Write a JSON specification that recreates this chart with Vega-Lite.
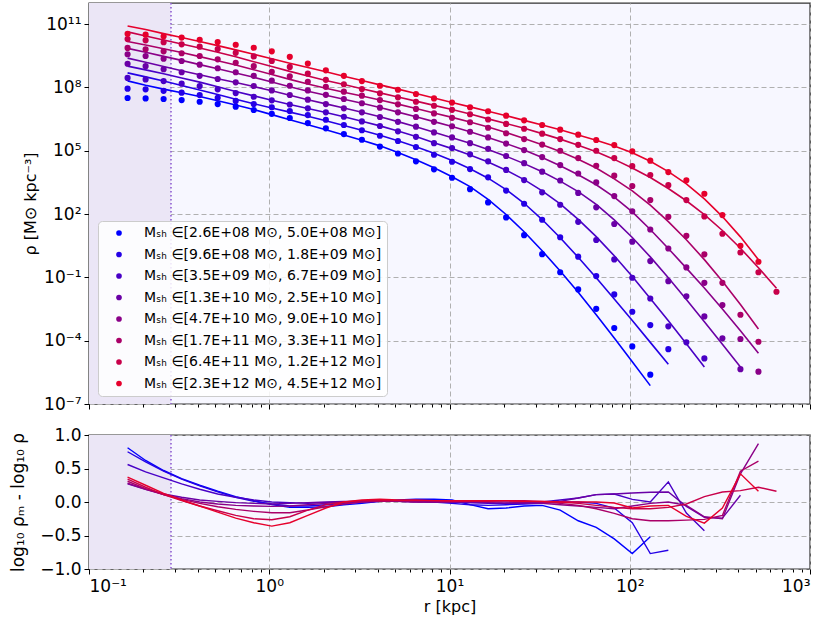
{
"$schema":"https://vega.github.io/schema/vega-lite/v6.json",
"background":"white",
"padding":{"left":8,"top":1,"right":21,"bottom":0},
"config":{
 "font":"DejaVu Sans",
 "view":{"fill":"#f7f7ff","stroke":"#333333","strokeWidth":1.4},
 "axis":{"labelFont":"DejaVu Sans","titleFont":"DejaVu Sans","labelFontSize":17,"titleFontSize":16,"titleFontWeight":"normal","labelColor":"black","titleColor":"black","tickColor":"black","tickSize":5,"tickWidth":1,"domain":false,"gridColor":"#b0b0b0","gridDash":[5,3],"gridWidth":1,"labelPadding":3}
},
"datasets":{
"zone":[{"a":0.1,"b":0.285}],
"bins":[
{"g":1,"label":"Mₛₕ ∈[2.6E+08 M⊙, 5.0E+08 M⊙]"},
{"g":2,"label":"Mₛₕ ∈[9.6E+08 M⊙, 1.8E+09 M⊙]"},
{"g":3,"label":"Mₛₕ ∈[3.5E+09 M⊙, 6.7E+09 M⊙]"},
{"g":4,"label":"Mₛₕ ∈[1.3E+10 M⊙, 2.5E+10 M⊙]"},
{"g":5,"label":"Mₛₕ ∈[4.7E+10 M⊙, 9.0E+10 M⊙]"},
{"g":6,"label":"Mₛₕ ∈[1.7E+11 M⊙, 3.3E+11 M⊙]"},
{"g":7,"label":"Mₛₕ ∈[6.4E+11 M⊙, 1.2E+12 M⊙]"},
{"g":8,"label":"Mₛₕ ∈[2.3E+12 M⊙, 4.5E+12 M⊙]"}
],
"prof":[
{"g":1,"r":0.1637,"rho":3.16e7,"rhom":2.04e8,"res":0.81},
{"g":1,"r":0.2061,"rho":3.02e7,"rhom":1.26e8,"res":0.62},
{"g":1,"r":0.2594,"rho":2.82e7,"rhom":8.32e7,"res":0.47},
{"g":1,"r":0.3266,"rho":2.51e7,"rhom":5.62e7,"res":0.35},
{"g":1,"r":0.4112,"rho":2.09e7,"rhom":3.72e7,"res":0.25},
{"g":1,"r":0.5176,"rho":1.62e7,"rhom":2.34e7,"res":0.16},
{"g":1,"r":0.6516,"rho":1.23e7,"rhom":1.48e7,"res":0.08},
{"g":1,"r":0.8204,"rho":8.51e6,"rhom":8.91e6,"res":0.02},
{"g":1,"r":1.033,"rho":5.62e6,"rhom":5.13e6,"res":-0.04},
{"g":1,"r":1.3,"rho":3.55e6,"rhom":2.95e6,"res":-0.08},
{"g":1,"r":1.637,"rho":2.04e6,"rhom":1.70e6,"res":-0.08},
{"g":1,"r":2.061,"rho":1.15e6,"rhom":9.77e5,"res":-0.07},
{"g":1,"r":2.594,"rho":6.17e5,"rhom":5.62e5,"res":-0.04},
{"g":1,"r":3.266,"rho":3.31e5,"rhom":3.16e5,"res":-0.02},
{"g":1,"r":4.112,"rho":1.58e5,"rhom":1.70e5,"res":0.01},
{"g":1,"r":5.176,"rho":7.41e4,"rhom":8.32e4,"res":0.03},
{"g":1,"r":6.516,"rho":3.16e4,"rhom":3.72e4,"res":0.04},
{"g":1,"r":8.204,"rho":1.32e4,"rhom":1.55e4,"res":0.04},
{"g":1,"r":10.33,"rho":5.25e3,"rhom":5.89e3,"res":0.03},
{"g":1,"r":13.0,"rho":1.51e3,"rhom":2.00e3,"res":-0.04},
{"g":1,"r":16.37,"rho":355,"rhom":501,"res":-0.10},
{"g":1,"r":20.61,"rho":69.2,"rhom":95.5,"res":-0.09},
{"g":1,"r":25.94,"rho":10.0,"rhom":14.5,"res":-0.06},
{"g":1,"r":32.66,"rho":1.26,"rhom":1.82,"res":-0.05},
{"g":1,"r":41.12,"rho":0.174,"rhom":0.2,"res":-0.12},
{"g":1,"r":51.76,"rho":0.0269,"rhom":0.0195,"res":-0.28},
{"g":1,"r":65.16,"rho":0.00324,"rhom":0.0017,"res":-0.38},
{"g":1,"r":82.04,"rho":3.98e-4,"rhom":1.35e-4,"res":-0.55},
{"g":1,"r":103.3,"rho":5.37e-5,"rhom":1.0e-5,"res":-0.77},
{"g":1,"r":130.0,"rho":2.45e-6,"rhom":7.41e-7,"res":-0.52},
{"g":2,"r":0.1637,"rho":8.71e7,"rhom":4.90e8,"res":0.75},
{"g":2,"r":0.2061,"rho":8.13e7,"rhom":3.16e8,"res":0.60},
{"g":2,"r":0.2594,"rho":6.92e7,"rhom":2.00e8,"res":0.46},
{"g":2,"r":0.3266,"rho":5.62e7,"rhom":1.23e8,"res":0.34},
{"g":2,"r":0.4112,"rho":4.37e7,"rhom":7.59e7,"res":0.24},
{"g":2,"r":0.5176,"rho":3.24e7,"rhom":4.57e7,"res":0.15},
{"g":2,"r":0.6516,"rho":2.29e7,"rhom":2.75e7,"res":0.07},
{"g":2,"r":0.8204,"rho":1.62e7,"rhom":1.70e7,"res":0.01},
{"g":2,"r":1.033,"rho":1.15e7,"rhom":1.07e7,"res":-0.03},
{"g":2,"r":1.3,"rho":7.59e6,"rhom":6.76e6,"res":-0.06},
{"g":2,"r":1.637,"rho":4.90e6,"rhom":4.27e6,"res":-0.06},
{"g":2,"r":2.061,"rho":2.95e6,"rhom":2.63e6,"res":-0.04},
{"g":2,"r":2.594,"rho":1.66e6,"rhom":1.58e6,"res":-0.02},
{"g":2,"r":3.266,"rho":9.33e5,"rhom":9.33e5,"res":0.0},
{"g":2,"r":4.112,"rho":5.13e5,"rhom":5.37e5,"res":0.01},
{"g":2,"r":5.176,"rho":2.88e5,"rhom":2.95e5,"res":0.02},
{"g":2,"r":6.516,"rho":1.51e5,"rhom":1.55e5,"res":0.02},
{"g":2,"r":8.204,"rho":6.46e4,"rhom":7.59e4,"res":0.0},
{"g":2,"r":10.33,"rho":3.02e4,"rhom":3.47e4,"res":-0.02},
{"g":2,"r":13.0,"rho":1.35e4,"rhom":1.41e4,"res":-0.04},
{"g":2,"r":16.37,"rho":5.50e3,"rhom":5.01e3,"res":-0.05},
{"g":2,"r":20.61,"rho":1.29e3,"rhom":1.45e3,"res":-0.04},
{"g":2,"r":25.94,"rho":309,"rhom":324,"res":-0.03},
{"g":2,"r":32.66,"rho":53.7,"rhom":55.0,"res":-0.02},
{"g":2,"r":41.12,"rho":7.94,"rhom":7.59,"res":0.0},
{"g":2,"r":51.76,"rho":0.955,"rhom":0.891,"res":0.0},
{"g":2,"r":65.16,"rho":0.115,"rhom":0.0955,"res":-0.02},
{"g":2,"r":82.04,"rho":0.0155,"rhom":9.55e-3,"res":-0.09},
{"g":2,"r":103.3,"rho":2.34e-3,"rhom":9.12e-4,"res":-0.31},
{"g":2,"r":130.0,"rho":5.50e-4,"rhom":8.32e-5,"res":-0.77},
{"g":2,"r":163.7,"rho":3.98e-5,"rhom":7.59e-6,"res":-0.72},
{"g":3,"r":0.1637,"rho":2.82e8,"rhom":1.02e9,"res":0.56},
{"g":3,"r":0.2061,"rho":2.40e8,"rhom":6.76e8,"res":0.45},
{"g":3,"r":0.2594,"rho":2.00e8,"rhom":4.47e8,"res":0.36},
{"g":3,"r":0.3266,"rho":1.51e8,"rhom":2.82e8,"res":0.27},
{"g":3,"r":0.4112,"rho":1.17e8,"rhom":1.78e8,"res":0.19},
{"g":3,"r":0.5176,"rho":8.13e7,"rhom":1.07e8,"res":0.12},
{"g":3,"r":0.6516,"rho":5.37e7,"rhom":6.46e7,"res":0.07},
{"g":3,"r":0.8204,"rho":3.63e7,"rhom":3.98e7,"res":0.03},
{"g":3,"r":1.033,"rho":2.45e7,"rhom":2.45e7,"res":0.0},
{"g":3,"r":1.3,"rho":1.55e7,"rhom":1.55e7,"res":-0.01},
{"g":3,"r":1.637,"rho":1.02e7,"rhom":1.00e7,"res":-0.02},
{"g":3,"r":2.061,"rho":6.61e6,"rhom":6.46e6,"res":-0.01},
{"g":3,"r":2.594,"rho":4.07e6,"rhom":4.07e6,"res":0.0},
{"g":3,"r":3.266,"rho":2.45e6,"rhom":2.51e6,"res":0.01},
{"g":3,"r":4.112,"rho":1.48e6,"rhom":1.51e6,"res":0.01},
{"g":3,"r":5.176,"rho":8.32e5,"rhom":8.71e5,"res":0.01},
{"g":3,"r":6.516,"rho":4.57e5,"rhom":4.68e5,"res":0.01},
{"g":3,"r":8.204,"rho":2.29e5,"rhom":2.40e5,"res":0.0},
{"g":3,"r":10.33,"rho":1.35e5,"rhom":1.26e5,"res":0.0},
{"g":3,"r":13.0,"rho":6.76e4,"rhom":6.31e4,"res":-0.01},
{"g":3,"r":16.37,"rho":3.16e4,"rhom":2.95e4,"res":-0.02},
{"g":3,"r":20.61,"rho":1.23e4,"rhom":1.20e4,"res":-0.02},
{"g":3,"r":25.94,"rho":4.07e3,"rhom":4.27e3,"res":-0.01},
{"g":3,"r":32.66,"rho":1.07e3,"rhom":1.26e3,"res":0.0},
{"g":3,"r":41.12,"rho":275,"rhom":302,"res":0.03},
{"g":3,"r":51.76,"rho":42.7,"rhom":56.2,"res":0.06},
{"g":3,"r":65.16,"rho":5.89,"rhom":8.51,"res":0.11},
{"g":3,"r":82.04,"rho":0.708,"rhom":1.05,"res":0.12},
{"g":3,"r":103.3,"rho":0.0955,"rhom":0.110,"res":0.04},
{"g":3,"r":130.0,"rho":0.0100,"rhom":0.0100,"res":0.0},
{"g":3,"r":163.7,"rho":4.79e-4,"rhom":8.71e-4,"res":0.30},
{"g":3,"r":206.1,"rho":8.32e-5,"rhom":7.08e-5,"res":-0.165},
{"g":3,"r":259.4,"rho":1.45e-5,"rhom":5.62e-6,"res":-0.43},
{"g":4,"r":0.1637,"rho":1.32e9,"rhom":2.45e9,"res":0.27},
{"g":4,"r":0.2061,"rho":1.02e9,"rhom":1.55e9,"res":0.19},
{"g":4,"r":0.2594,"rho":7.24e8,"rhom":9.77e8,"res":0.12},
{"g":4,"r":0.3266,"rho":5.25e8,"rhom":6.17e8,"res":0.07},
{"g":4,"r":0.4112,"rho":3.55e8,"rhom":3.98e8,"res":0.03},
{"g":4,"r":0.5176,"rho":2.51e8,"rhom":2.57e8,"res":0.01},
{"g":4,"r":0.6516,"rho":1.74e8,"rhom":1.70e8,"res":-0.01},
{"g":4,"r":0.8204,"rho":1.17e8,"rhom":1.10e8,"res":-0.02},
{"g":4,"r":1.033,"rho":7.24e7,"rhom":6.92e7,"res":-0.03},
{"g":4,"r":1.3,"rho":4.37e7,"rhom":4.27e7,"res":-0.02},
{"g":4,"r":1.637,"rho":2.63e7,"rhom":2.63e7,"res":-0.01},
{"g":4,"r":2.061,"rho":1.62e7,"rhom":1.66e7,"res":0.0},
{"g":4,"r":2.594,"rho":1.02e7,"rhom":1.05e7,"res":0.01},
{"g":4,"r":3.266,"rho":6.61e6,"rhom":6.61e6,"res":0.01},
{"g":4,"r":4.112,"rho":3.98e6,"rhom":4.07e6,"res":0.01},
{"g":4,"r":5.176,"rho":2.34e6,"rhom":2.40e6,"res":0.01},
{"g":4,"r":6.516,"rho":1.38e6,"rhom":1.38e6,"res":0.0},
{"g":4,"r":8.204,"rho":7.41e5,"rhom":7.59e5,"res":0.0},
{"g":4,"r":10.33,"rho":4.27e5,"rhom":4.17e5,"res":0.0},
{"g":4,"r":13.0,"rho":2.29e5,"rhom":2.24e5,"res":-0.01},
{"g":4,"r":16.37,"rho":1.23e5,"rhom":1.15e5,"res":-0.01},
{"g":4,"r":20.61,"rho":5.62e4,"rhom":5.50e4,"res":-0.02},
{"g":4,"r":25.94,"rho":2.57e4,"rhom":2.45e4,"res":-0.02},
{"g":4,"r":32.66,"rho":1.02e4,"rhom":1.00e4,"res":-0.01},
{"g":4,"r":41.12,"rho":3.89e3,"rhom":3.63e3,"res":0.01},
{"g":4,"r":51.76,"rho":1.00e3,"rhom":1.15e3,"res":0.06},
{"g":4,"r":65.16,"rho":209,"rhom":288,"res":0.11},
{"g":4,"r":82.04,"rho":33.9,"rhom":52.5,"res":0.12},
{"g":4,"r":103.3,"rho":4.90,"rhom":7.76,"res":0.135},
{"g":4,"r":130.0,"rho":0.589,"rhom":0.933,"res":0.145},
{"g":4,"r":163.7,"rho":0.0661,"rhom":0.0955,"res":0.15},
{"g":4,"r":206.1,"rho":0.0126,"rhom":8.91e-3,"res":-0.065},
{"g":4,"r":259.4,"rho":1.41e-3,"rhom":7.94e-4,"res":-0.23},
{"g":4,"r":326.6,"rho":1.29e-4,"rhom":6.76e-5,"res":-0.24},
{"g":4,"r":411.2,"rho":4.47e-6,"rhom":5.62e-6,"res":0.10},
{"g":5,"r":0.1637,"rho":3.72e9,"rhom":7.08e9,"res":0.28},
{"g":5,"r":0.2061,"rho":3.09e9,"rhom":4.68e9,"res":0.19},
{"g":5,"r":0.2594,"rho":2.29e9,"rhom":2.95e9,"res":0.11},
{"g":5,"r":0.3266,"rho":1.78e9,"rhom":1.91e9,"res":0.05},
{"g":5,"r":0.4112,"rho":1.20e9,"rhom":1.20e9,"res":0.0},
{"g":5,"r":0.5176,"rho":8.13e8,"rhom":7.59e8,"res":-0.03},
{"g":5,"r":0.6516,"rho":5.25e8,"rhom":4.79e8,"res":-0.05},
{"g":5,"r":0.8204,"rho":3.55e8,"rhom":3.02e8,"res":-0.06},
{"g":5,"r":1.033,"rho":2.09e8,"rhom":1.82e8,"res":-0.065},
{"g":5,"r":1.3,"rho":1.20e8,"rhom":1.07e8,"res":-0.06},
{"g":5,"r":1.637,"rho":7.24e7,"rhom":6.61e7,"res":-0.04},
{"g":5,"r":2.061,"rho":4.47e7,"rhom":4.27e7,"res":-0.02},
{"g":5,"r":2.594,"rho":2.82e7,"rhom":2.75e7,"res":0.0},
{"g":5,"r":3.266,"rho":1.78e7,"rhom":1.78e7,"res":0.01},
{"g":5,"r":4.112,"rho":1.10e7,"rhom":1.12e7,"res":0.01},
{"g":5,"r":5.176,"rho":6.61e6,"rhom":6.76e6,"res":0.01},
{"g":5,"r":6.516,"rho":3.98e6,"rhom":4.07e6,"res":0.0},
{"g":5,"r":8.204,"rho":2.34e6,"rhom":2.40e6,"res":0.0},
{"g":5,"r":10.33,"rho":1.45e6,"rhom":1.41e6,"res":0.0},
{"g":5,"r":13.0,"rho":7.94e5,"rhom":7.94e5,"res":0.01},
{"g":5,"r":16.37,"rho":4.27e5,"rhom":4.27e5,"res":0.0},
{"g":5,"r":20.61,"rho":2.19e5,"rhom":2.19e5,"res":0.0},
{"g":5,"r":25.94,"rho":1.07e5,"rhom":1.07e5,"res":-0.01},
{"g":5,"r":32.66,"rho":5.01e4,"rhom":4.79e4,"res":-0.02},
{"g":5,"r":41.12,"rho":2.09e4,"rhom":1.95e4,"res":-0.04},
{"g":5,"r":51.76,"rho":8.32e3,"rhom":7.24e3,"res":-0.06},
{"g":5,"r":65.16,"rho":3.16e3,"rhom":2.45e3,"res":-0.08},
{"g":5,"r":82.04,"rho":708,"rhom":631,"res":-0.10},
{"g":5,"r":103.3,"rho":135,"rhom":126,"res":-0.06},
{"g":5,"r":130.0,"rho":18.6,"rhom":18.6,"res":-0.02},
{"g":5,"r":163.7,"rho":2.34,"rhom":2.34,"res":0.0},
{"g":5,"r":206.1,"rho":0.295,"rhom":0.275,"res":-0.05},
{"g":5,"r":259.4,"rho":0.0550,"rhom":0.0316,"res":-0.22},
{"g":5,"r":326.6,"rho":4.90e-3,"rhom":3.16e-3,"res":-0.25},
{"g":5,"r":411.2,"rho":1.20e-4,"rhom":2.95e-4,"res":0.42},
{"g":5,"r":517.6,"rho":3.39e-6,"rhom":2.51e-5,"res":0.87},
{"g":6,"r":0.1637,"rho":7.41e9,"rhom":1.51e10,"res":0.31},
{"g":6,"r":0.2061,"rho":6.46e9,"rhom":1.02e10,"res":0.20},
{"g":6,"r":0.2594,"rho":5.13e9,"rhom":6.76e9,"res":0.11},
{"g":6,"r":0.3266,"rho":4.17e9,"rhom":4.47e9,"res":0.04},
{"g":6,"r":0.4112,"rho":3.09e9,"rhom":2.88e9,"res":-0.02},
{"g":6,"r":0.5176,"rho":2.14e9,"rhom":1.82e9,"res":-0.07},
{"g":6,"r":0.6516,"rho":1.48e9,"rhom":1.15e9,"res":-0.11},
{"g":6,"r":0.8204,"rho":1.02e9,"rhom":6.92e8,"res":-0.14},
{"g":6,"r":1.033,"rho":5.50e8,"rhom":4.07e8,"res":-0.16},
{"g":6,"r":1.3,"rho":3.39e8,"rhom":2.40e8,"res":-0.16},
{"g":6,"r":1.637,"rho":1.86e8,"rhom":1.45e8,"res":-0.12},
{"g":6,"r":2.061,"rho":1.07e8,"rhom":9.12e7,"res":-0.07},
{"g":6,"r":2.594,"rho":6.31e7,"rhom":5.89e7,"res":-0.03},
{"g":6,"r":3.266,"rho":4.07e7,"rhom":3.89e7,"res":0.0},
{"g":6,"r":4.112,"rho":2.51e7,"rhom":2.51e7,"res":0.01},
{"g":6,"r":5.176,"rho":1.58e7,"rhom":1.62e7,"res":0.02},
{"g":6,"r":6.516,"rho":9.55e6,"rhom":1.00e7,"res":0.02},
{"g":6,"r":8.204,"rho":5.89e6,"rhom":6.17e6,"res":0.02},
{"g":6,"r":10.33,"rho":3.63e6,"rhom":3.80e6,"res":0.02},
{"g":6,"r":13.0,"rho":2.24e6,"rhom":2.29e6,"res":0.02},
{"g":6,"r":16.37,"rho":1.23e6,"rhom":1.32e6,"res":0.02},
{"g":6,"r":20.61,"rho":6.76e5,"rhom":7.24e5,"res":0.02},
{"g":6,"r":25.94,"rho":3.55e5,"rhom":3.80e5,"res":0.01},
{"g":6,"r":32.66,"rho":1.95e5,"rhom":1.91e5,"res":0.0},
{"g":6,"r":41.12,"rho":1.00e5,"rhom":9.12e4,"res":-0.02},
{"g":6,"r":51.76,"rho":4.47e4,"rhom":3.98e4,"res":-0.05},
{"g":6,"r":65.16,"rho":1.95e4,"rhom":1.51e4,"res":-0.10},
{"g":6,"r":82.04,"rho":6.61e3,"rhom":4.68e3,"res":-0.17},
{"g":6,"r":103.3,"rho":2.14e3,"rhom":1.26e3,"res":-0.25},
{"g":6,"r":130.0,"rho":457,"rhom":263,"res":-0.28},
{"g":6,"r":163.7,"rho":74.1,"rhom":43.7,"res":-0.28},
{"g":6,"r":206.1,"rho":9.33,"rhom":6.03,"res":-0.27},
{"g":6,"r":259.4,"rho":1.23,"rhom":0.692,"res":-0.26},
{"g":6,"r":326.6,"rho":0.0550,"rhom":0.0661,"res":-0.20},
{"g":6,"r":411.2,"rho":1.70e-3,"rhom":5.13e-3,"res":0.46},
{"g":6,"r":517.6,"rho":8.91e-5,"rhom":3.55e-4,"res":0.61},
{"g":7,"r":0.1637,"rho":1.95e10,"rhom":4.27e10,"res":0.34},
{"g":7,"r":0.2061,"rho":1.70e10,"rhom":2.75e10,"res":0.22},
{"g":7,"r":0.2594,"rho":1.38e10,"rhom":1.78e10,"res":0.11},
{"g":7,"r":0.3266,"rho":1.10e10,"rhom":1.15e10,"res":0.02},
{"g":7,"r":0.4112,"rho":8.51e9,"rhom":7.41e9,"res":-0.06},
{"g":7,"r":0.5176,"rho":6.61e9,"rhom":4.68e9,"res":-0.13},
{"g":7,"r":0.6516,"rho":4.37e9,"rhom":2.82e9,"res":-0.20},
{"g":7,"r":0.8204,"rho":2.95e9,"rhom":1.66e9,"res":-0.25},
{"g":7,"r":1.033,"rho":1.78e9,"rhom":9.77e8,"res":-0.265},
{"g":7,"r":1.3,"rho":9.33e8,"rhom":5.75e8,"res":-0.22},
{"g":7,"r":1.637,"rho":4.47e8,"rhom":3.47e8,"res":-0.12},
{"g":7,"r":2.061,"rho":2.29e8,"rhom":2.14e8,"res":-0.04},
{"g":7,"r":2.594,"rho":1.41e8,"rhom":1.38e8,"res":0.0},
{"g":7,"r":3.266,"rho":8.32e7,"rhom":8.71e7,"res":0.02},
{"g":7,"r":4.112,"rho":5.25e7,"rhom":5.50e7,"res":0.02},
{"g":7,"r":5.176,"rho":3.39e7,"rhom":3.55e7,"res":0.02},
{"g":7,"r":6.516,"rho":2.09e7,"rhom":2.24e7,"res":0.02},
{"g":7,"r":8.204,"rho":1.35e7,"rhom":1.41e7,"res":0.02},
{"g":7,"r":10.33,"rho":8.71e6,"rhom":8.91e6,"res":0.01},
{"g":7,"r":13.0,"rho":5.37e6,"rhom":5.50e6,"res":0.01},
{"g":7,"r":16.37,"rho":3.02e6,"rhom":3.24e6,"res":0.01},
{"g":7,"r":20.61,"rho":1.86e6,"rhom":1.95e6,"res":0.02},
{"g":7,"r":25.94,"rho":1.10e6,"rhom":1.15e6,"res":0.02},
{"g":7,"r":32.66,"rho":6.46e5,"rhom":6.46e5,"res":0.01},
{"g":7,"r":41.12,"rho":3.55e5,"rhom":3.55e5,"res":0.0},
{"g":7,"r":51.76,"rho":1.91e5,"rhom":1.82e5,"res":-0.02},
{"g":7,"r":65.16,"rho":1.00e5,"rhom":8.91e4,"res":-0.05},
{"g":7,"r":82.04,"rho":4.47e4,"rhom":3.89e4,"res":-0.08},
{"g":7,"r":103.3,"rho":1.86e4,"rhom":1.51e4,"res":-0.10},
{"g":7,"r":130.0,"rho":7.08e3,"rhom":5.37e3,"res":-0.10},
{"g":7,"r":163.7,"rho":2.34e3,"rhom":1.62e3,"res":-0.08},
{"g":7,"r":206.1,"rho":457,"rhom":427,"res":-0.03},
{"g":7,"r":259.4,"rho":77.6,"rhom":93.3,"res":0.08},
{"g":7,"r":326.6,"rho":11.7,"rhom":16.6,"res":0.15},
{"g":7,"r":411.2,"rho":1.51,"rhom":2.40,"res":0.17},
{"g":7,"r":517.6,"rho":0.174,"rhom":0.288,"res":0.22},
{"g":7,"r":651.6,"rho":0.0209,"rhom":0.0302,"res":0.16},
{"g":8,"r":0.1637,"rho":3.47e10,"rhom":8.13e10,"res":0.37},
{"g":8,"r":0.2061,"rho":3.16e10,"rhom":5.50e10,"res":0.25},
{"g":8,"r":0.2594,"rho":2.63e10,"rhom":3.55e10,"res":0.13},
{"g":8,"r":0.3266,"rho":2.29e10,"rhom":2.34e10,"res":0.03},
{"g":8,"r":0.4112,"rho":1.82e10,"rhom":1.51e10,"res":-0.06},
{"g":8,"r":0.5176,"rho":1.41e10,"rhom":9.55e9,"res":-0.15},
{"g":8,"r":0.6516,"rho":1.05e10,"rhom":6.03e9,"res":-0.24},
{"g":8,"r":0.8204,"rho":7.59e9,"rhom":3.72e9,"res":-0.31},
{"g":8,"r":1.033,"rho":5.13e9,"rhom":2.29e9,"res":-0.36},
{"g":8,"r":1.3,"rho":2.82e9,"rhom":1.41e9,"res":-0.31},
{"g":8,"r":1.637,"rho":1.35e9,"rhom":8.71e8,"res":-0.20},
{"g":8,"r":2.061,"rho":6.46e8,"rhom":5.50e8,"res":-0.09},
{"g":8,"r":2.594,"rho":3.55e8,"rhom":3.39e8,"res":0.0},
{"g":8,"r":3.266,"rho":2.00e8,"rhom":2.14e8,"res":0.03},
{"g":8,"r":4.112,"rho":1.20e8,"rhom":1.32e8,"res":0.04},
{"g":8,"r":5.176,"rho":7.76e7,"rhom":8.32e7,"res":0.03},
{"g":8,"r":6.516,"rho":4.90e7,"rhom":5.13e7,"res":0.03},
{"g":8,"r":8.204,"rho":3.02e7,"rhom":3.16e7,"res":0.02},
{"g":8,"r":10.33,"rho":1.91e7,"rhom":1.95e7,"res":0.02},
{"g":8,"r":13.0,"rho":1.15e7,"rhom":1.20e7,"res":0.02},
{"g":8,"r":16.37,"rho":7.41e6,"rhom":7.41e6,"res":0.02},
{"g":8,"r":20.61,"rho":4.57e6,"rhom":4.57e6,"res":0.02},
{"g":8,"r":25.94,"rho":2.75e6,"rhom":2.75e6,"res":0.01},
{"g":8,"r":32.66,"rho":1.66e6,"rhom":1.66e6,"res":0.01},
{"g":8,"r":41.12,"rho":1.00e6,"rhom":9.77e5,"res":0.0},
{"g":8,"r":51.76,"rho":5.75e5,"rhom":5.62e5,"res":0.0},
{"g":8,"r":65.16,"rho":3.24e5,"rhom":3.16e5,"res":0.0},
{"g":8,"r":82.04,"rho":1.86e5,"rhom":1.66e5,"res":-0.015},
{"g":8,"r":103.3,"rho":9.33e4,"rhom":7.94e4,"res":-0.09},
{"g":8,"r":130.0,"rho":3.39e4,"rhom":3.16e4,"res":-0.06},
{"g":8,"r":163.7,"rho":9.77e3,"rhom":1.02e4,"res":-0.05},
{"g":8,"r":206.1,"rho":3.98e3,"rhom":2.69e3,"res":-0.215},
{"g":8,"r":259.4,"rho":912,"rhom":525,"res":-0.315},
{"g":8,"r":326.6,"rho":89.1,"rhom":75.9,"res":-0.09},
{"g":8,"r":411.2,"rho":3.16,"rhom":8.32,"res":0.42},
{"g":8,"r":517.6,"rho":0.550,"rhom":0.692,"res":0.16}
]
},
"resolve":{"legend":{"color":"independent"}},
"spacing":12,
"vconcat":[
{
 "width":721,"height":401,
 "resolve":{"axis":{"x":"independent"},"legend":{"color":"independent"}},
 "layer":[
  {"data":{"name":"zone"},"mark":{"type":"rect","color":"#ebe6f6"},
   "encoding":{"x":{"field":"a","type":"quantitative","scale":{"type":"log","domain":[0.1,1000],"nice":false},
     "axis":{"orient":"bottom","values":[0.1,1,10,100,1000],"labels":false,"title":null,"grid":true,"tickSize":5}},
    "x2":{"field":"b"}}},
  {"data":{"name":"zone"},"mark":{"type":"rule","color":"#8f5fd2","strokeDash":[1.5,2.5],"strokeWidth":1.6},
   "encoding":{"x":{"field":"b","type":"quantitative","axis":null}}},
  {"data":{"name":"prof"},
   "transform":[{"lookup":"g","from":{"data":{"name":"bins"},"key":"g","fields":["label"]}}],
   "mark":{"type":"line","strokeWidth":1.6},
   "encoding":{
    "x":{"field":"r","type":"quantitative","axis":{"orient":"bottom","values":[0.2,0.3,0.4,0.5,0.6,0.7,0.8,0.9,2,3,4,5,6,7,8,9,20,30,40,50,60,70,80,90,200,300,400,500,600,700,800,900],"labels":false,"title":null,"grid":false,"tickSize":3}},
    "y":{"field":"rhom","type":"quantitative","scale":{"type":"log","domain":[1e-7,1e12],"nice":false},
     "axis":{"values":[1e-7,1e-4,0.1,100,1e5,1e8,1e11],"grid":true,"title":"ρ [M⊙ kpc⁻³]","titleX":-59,"titleBaseline":"middle",
      "labelExpr":"datum.value < 1e-5 ? '10⁻⁷' : datum.value < 1e-2 ? '10⁻⁴' : datum.value < 10 ? '10⁻¹' : datum.value < 1e4 ? '10²' : datum.value < 1e7 ? '10⁵' : datum.value < 1e10 ? '10⁸' : '10¹¹'"}},
    "color":{"field":"label","type":"nominal","sort":null,
     "scale":{"domain":["Mₛₕ ∈[2.6E+08 M⊙, 5.0E+08 M⊙]","Mₛₕ ∈[9.6E+08 M⊙, 1.8E+09 M⊙]","Mₛₕ ∈[3.5E+09 M⊙, 6.7E+09 M⊙]","Mₛₕ ∈[1.3E+10 M⊙, 2.5E+10 M⊙]","Mₛₕ ∈[4.7E+10 M⊙, 9.0E+10 M⊙]","Mₛₕ ∈[1.7E+11 M⊙, 3.3E+11 M⊙]","Mₛₕ ∈[6.4E+11 M⊙, 1.2E+12 M⊙]","Mₛₕ ∈[2.3E+12 M⊙, 4.5E+12 M⊙]"],
      "range":["#0000ff","#2400e6","#4800c6","#6a00a6","#8a0088","#aa0068","#c8004a","#e6002c"]},
     "legend":null}
   }},
  {"data":{"name":"prof"},
   "transform":[{"lookup":"g","from":{"data":{"name":"bins"},"key":"g","fields":["label"]}}],
   "mark":{"type":"point","filled":true,"size":38,"opacity":1},
   "encoding":{
    "x":{"field":"r","type":"quantitative","axis":null},
    "y":{"field":"rho","type":"quantitative",
     "axis":{"values":[1e-7,1e-4,0.1,100,1e5,1e8,1e11],"grid":true,"title":"ρ [M⊙ kpc⁻³]","titleX":-59,"titleBaseline":"middle",
      "labelExpr":"datum.value < 1e-5 ? '10⁻⁷' : datum.value < 1e-2 ? '10⁻⁴' : datum.value < 10 ? '10⁻¹' : datum.value < 1e4 ? '10²' : datum.value < 1e7 ? '10⁵' : datum.value < 1e10 ? '10⁸' : '10¹¹'"}},
    "color":{"field":"label","type":"nominal","sort":null,
     "scale":{"domain":["Mₛₕ ∈[2.6E+08 M⊙, 5.0E+08 M⊙]","Mₛₕ ∈[9.6E+08 M⊙, 1.8E+09 M⊙]","Mₛₕ ∈[3.5E+09 M⊙, 6.7E+09 M⊙]","Mₛₕ ∈[1.3E+10 M⊙, 2.5E+10 M⊙]","Mₛₕ ∈[4.7E+10 M⊙, 9.0E+10 M⊙]","Mₛₕ ∈[1.7E+11 M⊙, 3.3E+11 M⊙]","Mₛₕ ∈[6.4E+11 M⊙, 1.2E+12 M⊙]","Mₛₕ ∈[2.3E+12 M⊙, 4.5E+12 M⊙]"],
      "range":["#0000ff","#2400e6","#4800c6","#6a00a6","#8a0088","#aa0068","#c8004a","#e6002c"]},
     "legend":{"orient":"none","legendX":9,"legendY":218,"title":null,"symbolType":"circle","symbolSize":32,"labelFont":"DejaVu Sans","labelFontSize":14,"labelColor":"black","labelLimit":400,"labelOffset":18,"symbolOffset":9,"rowPadding":7.5,"padding":5,"fillColor":"rgba(255,255,255,0.85)","strokeColor":"#cccccc","cornerRadius":4}}
   }}
 ]
},
{
 "width":721,"height":134,
 "resolve":{"axis":{"x":"independent"}},
 "layer":[
  {"data":{"name":"zone"},"mark":{"type":"rect","color":"#ebe6f6"},
   "encoding":{"x":{"field":"a","type":"quantitative","scale":{"type":"log","domain":[0.1,1000],"nice":false},
     "axis":{"orient":"bottom","values":[0.1,1,10,100,1000],"title":"r [kpc]","grid":true,"tickSize":5,"labelPadding":4,
      "labelExpr":"datum.value < 0.5 ? '10⁻¹' : datum.value < 5 ? '10⁰' : datum.value < 50 ? '10¹' : datum.value < 500 ? '10²' : '10³'"}},
    "x2":{"field":"b"}}},
  {"data":{"name":"zone"},"mark":{"type":"rule","color":"#8f5fd2","strokeDash":[1.5,2.5],"strokeWidth":1.6},
   "encoding":{"x":{"field":"b","type":"quantitative","axis":null}}},
  {"data":{"name":"prof"},
   "transform":[{"lookup":"g","from":{"data":{"name":"bins"},"key":"g","fields":["label"]}}],
   "mark":{"type":"line","strokeWidth":1.4},
   "encoding":{
    "x":{"field":"r","type":"quantitative","axis":{"orient":"bottom","values":[0.2,0.3,0.4,0.5,0.6,0.7,0.8,0.9,2,3,4,5,6,7,8,9,20,30,40,50,60,70,80,90,200,300,400,500,600,700,800,900],"labels":false,"title":null,"grid":false,"tickSize":3}},
    "y":{"field":"res","type":"quantitative","scale":{"domain":[-1,1],"nice":false},
     "axis":{"values":[-1,-0.5,0,0.5,1],"format":".1f","grid":true,"title":"log₁₀ ρₘ - log₁₀ ρ","titleFontSize":17,"titleX":-71,"titleBaseline":"middle"}},
    "color":{"field":"label","type":"nominal","sort":null,
     "scale":{"domain":["Mₛₕ ∈[2.6E+08 M⊙, 5.0E+08 M⊙]","Mₛₕ ∈[9.6E+08 M⊙, 1.8E+09 M⊙]","Mₛₕ ∈[3.5E+09 M⊙, 6.7E+09 M⊙]","Mₛₕ ∈[1.3E+10 M⊙, 2.5E+10 M⊙]","Mₛₕ ∈[4.7E+10 M⊙, 9.0E+10 M⊙]","Mₛₕ ∈[1.7E+11 M⊙, 3.3E+11 M⊙]","Mₛₕ ∈[6.4E+11 M⊙, 1.2E+12 M⊙]","Mₛₕ ∈[2.3E+12 M⊙, 4.5E+12 M⊙]"],
      "range":["#0000ff","#2400e6","#4800c6","#6a00a6","#8a0088","#aa0068","#c8004a","#e6002c"]},
     "legend":null}
   }}
 ]
}
]
}
